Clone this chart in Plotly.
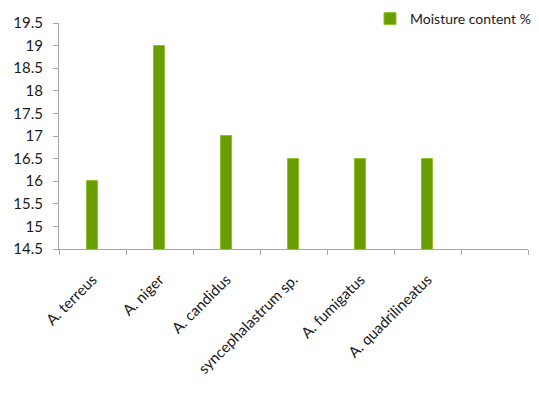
import plotly.graph_objects as go

# Fungal isolates and their moisture content (%)
species = ["A. terreus", "A. niger", "A. candidus", "syncephalastrum sp.",
           "A. fumigatus", "A. quadrilineatus", " "]
moisture = [16, 19, 17, 16.5, 16.5, 16.5, None]

y_ticks = [14.5, 15, 15.5, 16, 16.5, 17, 17.5, 18, 18.5, 19, 19.5]
y_tick_text = ["14.5", "15", "15.5", "16", "16.5", "17", "17.5", "18", "18.5", "19", "19.5"]

font_family = "Lato, 'Open Sans', sans-serif"
axis_grey = "#a6a6a6"
text_col = "#1a1a1a"

fig = go.Figure(
    go.Bar(
        x=species,
        y=moisture,
        name="Moisture content %",
        width=0.15,
        marker=dict(color="#6a9e00", line=dict(color="#8fc22a", width=1)),
        showlegend=True,
    )
)

fig.update_layout(
    width=539,
    height=393,
    margin=dict(l=59, r=11, t=23, b=144, autoexpand=False),
    paper_bgcolor="white",
    plot_bgcolor="white",
    font=dict(family=font_family, size=14, color=text_col),
    bargap=0,
    legend=dict(
        xref="container", yref="container",
        x=370 / 539, y=1 - 3 / 393, xanchor="left", yanchor="top",
        bgcolor="rgba(0,0,0,0)",
        font=dict(size=14, color=text_col),
        itemwidth=30,
    ),
    xaxis=dict(
        type="category",
        tickson="boundaries",
        ticks="outside",
        ticklen=5,
        tickcolor=axis_grey,
        showline=True,
        linecolor=axis_grey,
        linewidth=1,
        showgrid=False,
        tickangle=-45,
        tickfont=dict(size=15, color=text_col),
        ticklabelstandoff=15,
        automargin=False,
        range=[-0.5, 6.5],
    ),
    yaxis=dict(
        range=[14.5, 19.5],
        tickvals=y_ticks,
        ticktext=y_tick_text,
        ticks="outside",
        ticklen=5,
        tickcolor=axis_grey,
        showline=True,
        linecolor=axis_grey,
        linewidth=1,
        showgrid=False,
        zeroline=False,
        tickfont=dict(size=15, color=text_col),
        ticklabelstandoff=7,
        automargin=False,
    ),
)

fig.write_html("out.html")
